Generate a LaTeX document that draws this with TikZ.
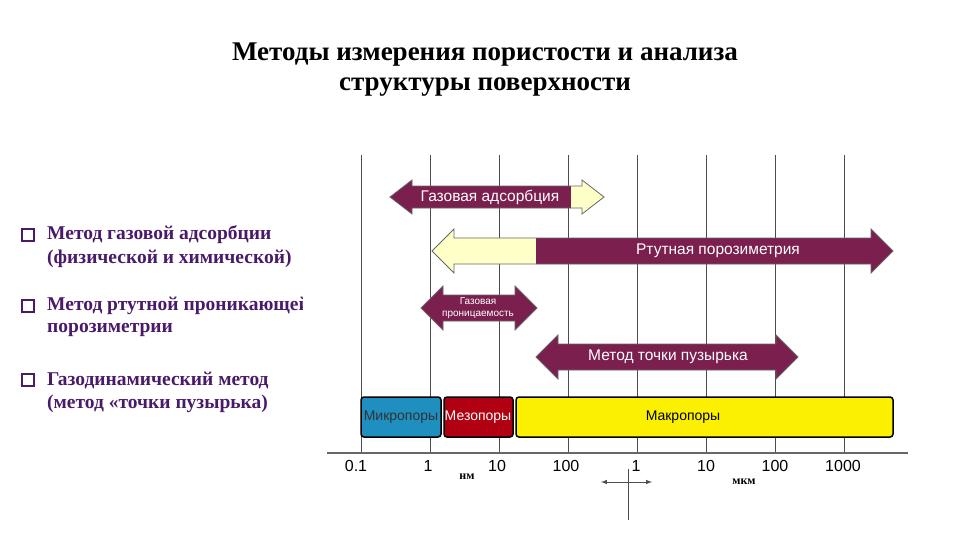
\documentclass[tikz,border=0pt]{standalone}
\usepackage{fontspec}
\setmainfont{Liberation Serif}
\setsansfont{Liberation Sans}
\definecolor{mag}{HTML}{7B1F4E}
\definecolor{lyel}{HTML}{FFFFC8}
\definecolor{pblue}{HTML}{1E8FBF}
\definecolor{pred}{HTML}{B00012}
\definecolor{pyel}{HTML}{FAF000}
\definecolor{purp}{HTML}{4A1A6A}
\newcommand\dap[5]{({#1},{#3}) -- ({#1+22},{#3-#5}) -- ({#1+22},{#3-#4}) -- ({#2-22},{#3-#4}) -- ({#2-22},{#3-#5}) -- ({#2},{#3}) -- ({#2-22},{#3+#5}) -- ({#2-22},{#3+#4}) -- ({#1+22},{#3+#4}) -- ({#1+22},{#3+#5}) -- cycle}
\tikzset{arrlbl/.style={text=white,font=\sffamily\fontsize{15.5}{16}\selectfont},
bul/.style={anchor=west,text=purp,font=\bfseries\fontsize{19.5}{20}\selectfont,inner sep=0pt},
ax/.style={font=\sffamily\fontsize{16}{16}\selectfont},
pore/.style={draw=black,line width=1.5pt,rounded corners=3pt},
plbl/.style={font=\sffamily\fontsize{14}{14}\selectfont},
ttl/.style={font=\bfseries\fontsize{27}{30}\selectfont,align=center}}
\begin{document}
\begin{tikzpicture}[x=1pt,y=-1pt]
\useasboundingbox (0,0) rectangle (960,540);
% title
\node[ttl] (t1) at (485,70) {Методы измерения пористости и анализа\\структуры поверхности};
% bullets
\begin{scope}
\clip (0,200) rectangle (302,430);
\foreach \y/\a/\b [count=\i] in {235/Метод газовой адсорбции/(физической и химической),
306/Метод ртутной проникающей/порозиметрии,
380/Газодинамический метод/(метод «точки пузырька)}{
\draw[purp,line width=1.6pt,fill=white] (22,\y-6) rectangle (34,\y+6);
\node[bul] (b\i a) at (47,\y) {\a};
\node[bul] (b\i b) at (47,\y+24) {\b};
}
\end{scope}
% grid
\foreach \x in {361,430,499,568,637,706,775,844}{
\draw[black!70,line width=0.8pt] (\x,155) -- (\x,453);}
\draw[black!60,line width=2pt] (327,453) -- (908,453);
\foreach \x/\l in {356/0.1,428/1,497/10,566/100,636/1,706/10,775/100,843/1000}{
\node[ax] at (\x,466) {\l};}
\node[font=\bfseries\fontsize{12}{12}\selectfont] (nm) at (467,477) {нм};
\node[font=\bfseries\fontsize{12}{12}\selectfont] (mkm) at (744,482) {мкм};
\coordinate (al) at (601,482); \coordinate (ar) at (652,482);
\draw[black!70,line width=1pt,<->,>=latex] (al) -- (ar);
\draw[black!70,line width=0.8pt] (628,469) -- (628,520);
% pores
\draw[pore,fill=pblue] (361,397) rectangle (441,437);
\node[plbl,text=black!80] at (401,417) {Микропоры};
\draw[pore,fill=pred] (444,397) rectangle (513,437);
\node[plbl,text=white] at (478,417) {Мезопоры};
\draw[pore,fill=pyel] (516,397) rectangle (893,437);
\node[plbl] at (683,417) {Макропоры};
% gas adsorption
\begin{scope}\clip \dap{390}{604}{197}{11}{17};
\fill[mag] (380,170) rectangle (571,230); \fill[lyel] (571,170) rectangle (610,230);
\end{scope}
\draw[black!60,line width=0.8pt] \dap{390}{604}{197}{11}{17};
\node[arrlbl] at (490,197) {Газовая адсорбция};
% mercury
\begin{scope}\clip \dap{432}{893}{251}{13}{22};
\fill[lyel] (420,220) rectangle (536,290); \fill[mag] (536,220) rectangle (900,290);
\end{scope}
\draw[black!60,line width=0.8pt] \dap{432}{893}{251}{13}{22};
\node[arrlbl] at (718,251) {Ртутная порозиметрия};
% permeability
\fill[mag,draw=black!60,line width=0.8pt] \dap{421}{537}{308}{13}{22};
\node[arrlbl,font=\sffamily\fontsize{10}{12}\selectfont,align=center] at (478,308) {Газовая\\проницаемость};
% bubble
\fill[mag,draw=black!60,line width=0.8pt] \dap{536}{798}{357}{13}{22};
\node[arrlbl] at (668,357) {Метод точки пузырька};
\end{tikzpicture}
\end{document}
